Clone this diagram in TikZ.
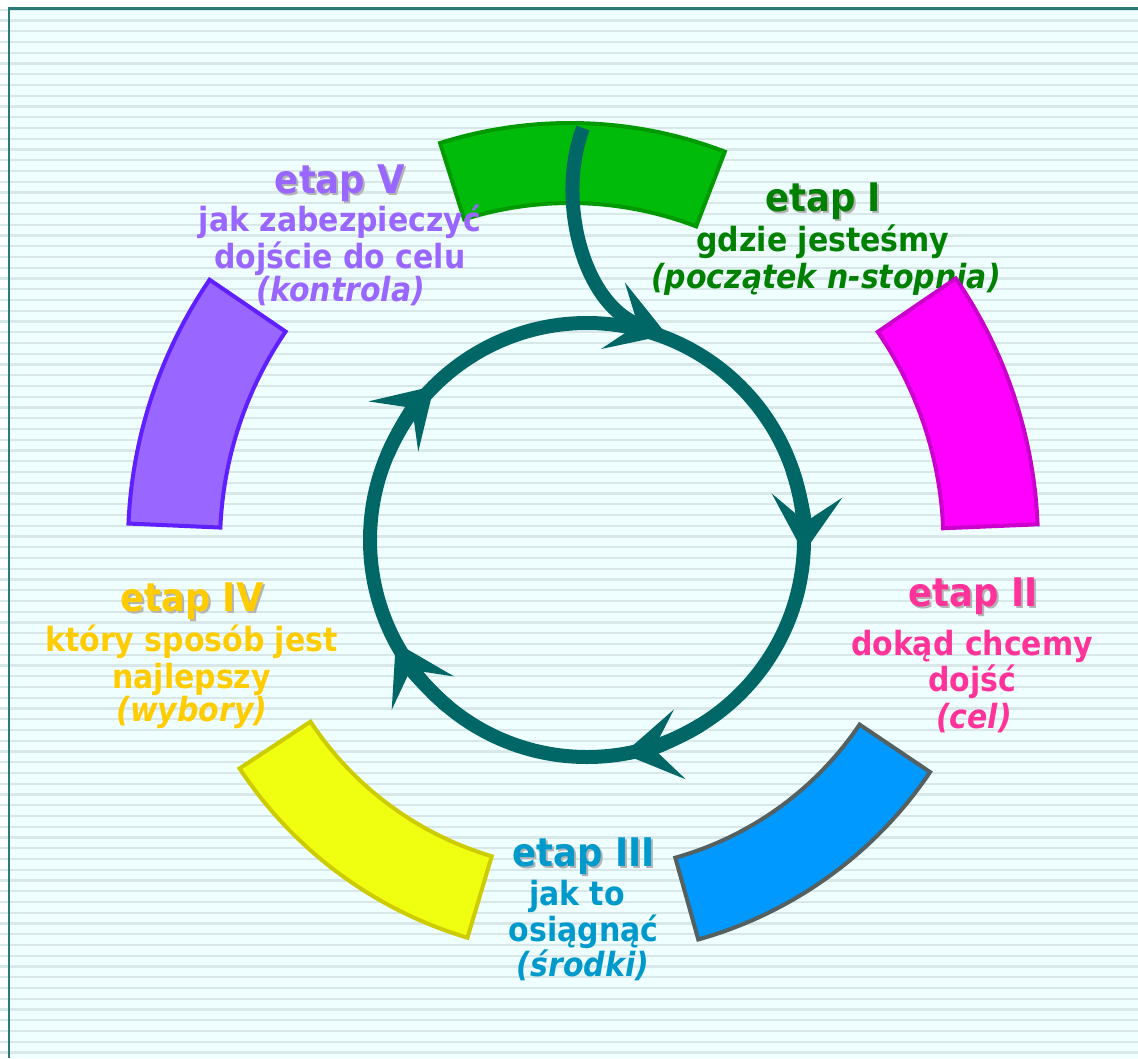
\documentclass[tikz,border=0pt]{standalone}
\usepackage{fontspec}
\IfFontExistsTF{DejaVu Sans Condensed}{%
  \setmainfont{DejaVu Sans Condensed}%
  \newcommand\myheadsz{39.4}\newcommand\mybodysz{33.3}}{%
  \setmainfont{DejaVu Sans}%
  \newcommand\myheadsz{35.5}\newcommand\mybodysz{30}}
\usetikzlibrary{arrows.meta,calc}
\definecolor{bgc}{HTML}{EFFFFF}
\definecolor{stripec}{HTML}{D8E7E7}
\definecolor{framec}{HTML}{2A7A75}
\definecolor{ringc}{HTML}{006666}
\definecolor{shadowc}{HTML}{B4B4B4}
\definecolor{vtext}{HTML}{9966FF}
\definecolor{vfill}{HTML}{9966FF}
\definecolor{vline}{HTML}{5F1FFF}
\definecolor{itext}{HTML}{008000}
\definecolor{ifill}{HTML}{00BB0A}
\definecolor{iline}{HTML}{009A00}
\definecolor{iitext}{HTML}{FF3399}
\definecolor{iifill}{HTML}{FF00FF}
\definecolor{iiline}{HTML}{CC00CC}
\definecolor{iiitext}{HTML}{0099CC}
\definecolor{iiifill}{HTML}{0099FF}
\definecolor{iiiline}{HTML}{556060}
\definecolor{ivtext}{HTML}{FFCC00}
\definecolor{ivfill}{HTML}{F0FF10}
\definecolor{ivline}{HTML}{CCCC00}
\newcommand\headf{\fontsize{\myheadsz}{40}\selectfont\bfseries}
\newcommand\bodyf{\fontsize{\mybodysz}{36}\selectfont\bfseries}
\newcommand\bodyif{\fontsize{\mybodysz}{36}\selectfont\bfseries\itshape}
\tikzset{
  head/.style={anchor=base, inner sep=0pt, font=\headf},
  headshadow/.style={anchor=base, inner sep=0pt, font=\headf, text=shadowc},
  body/.style={anchor=base, inner sep=0pt, font=\bodyf},
  bodyit/.style={anchor=base, inner sep=0pt, font=\bodyif},
  segment/.style={line width=4pt, line join=miter},
  ringline/.style={draw=ringc, line width=14pt},
  ringtip/.style={-{Stealth[length=57pt, width=70pt, inset=26pt]}},
  stripeline/.style={draw=stripec, line width=2.2pt},
}
\begin{document}
\begin{tikzpicture}[x=1pt,y=-1pt]
\useasboundingbox (0,0) rectangle (1138,1058);
% background
\fill[white] (0,0) rectangle (1138,1058);
\fill[bgc] (9,8.5) rectangle (1138,1058);
\foreach \k in {0,...,98} {
  \draw[stripeline] (0,{9.75+10.75*\k-10.75}) -- (1138,{9.75+10.75*\k-10.75});
}
\draw[draw=framec, line width=2.6pt] (9,1058) -- (9,8.5) -- (1138,8.5);

% etap I
\node[headshadow] (t1s) at (825,213.7) {etap I};
\node[head, text=itext] (t1) at (823,211.7) {etap I};
\node[body, text=itext] (t1b) at (823,251.7) {gdzie jesteśmy};
\node[bodyit, text=itext] (t1c) at (826,288.3) {(początek n-stopnia)};
% etap II
\node[headshadow] (t2s) at (975,608.7) {etap II};
\node[head, text=iitext] (t2) at (973,606.7) {etap II};
\node[body, text=iitext] (t2b) at (972,655) {dokąd chcemy};
\node[body, text=iitext] (t2c) at (972,691.7) {dojść};
\node[bodyit, text=iitext] (t2d) at (974,728) {(cel)};
% etap III
\node[headshadow] (t3s) at (586,868.7) {etap III};
\node[head, text=iiitext] (t3) at (584,866.7) {etap III};
\node[body, text=iiitext] (t3b) at (577,905) {jak to};
\node[body, text=iiitext] (t3c) at (583.5,941.7) {osiągnąć};
\node[bodyit, text=iiitext] (t3d) at (583,976.7) {(środki)};
% etap IV
\node[headshadow] (t4s) at (194,613.7) {etap IV};
\node[head, text=ivtext] (t4) at (192,611.7) {etap IV};
\node[body, text=ivtext] (t4b) at (191.5,651.7) {który sposób jest};
\node[body, text=ivtext] (t4c) at (191.5,688.3) {najlepszy};
\node[bodyit, text=ivtext] (t4d) at (192,721.7) {(wybory)};

% segments
\coordinate (sc) at (586,540);
\coordinate (sg) at (570,555);
\coordinate (sm) at (568,544);
\coordinate (sp) at (597,544);
% green (etap I)
\filldraw[segment, fill=ifill, draw=iline]
  ($(sg)+(252.5:432)$) arc[start angle=252.5, end angle=291, radius=432]
  -- ($(sg)+(291:352)$) arc[start angle=291, end angle=252.5, radius=352] -- cycle;
% blue (etap III)
\filldraw[segment, fill=iiifill, draw=iiiline]
  ($(sc)+(34:415)$) arc[start angle=34, end angle=74.3, radius=415]
  -- ($(sc)+(74.3:330)$) arc[start angle=74.3, end angle=34, radius=330] -- cycle;
% yellow (etap IV)
\filldraw[segment, fill=ivfill, draw=ivline]
  ($(sc)+(106.6:415)$) arc[start angle=106.6, end angle=146.6, radius=415]
  -- ($(sc)+(146.6:330)$) arc[start angle=146.6, end angle=106.6, radius=330] -- cycle;
% magenta (etap II)
\filldraw[segment, fill=iifill, draw=iiline]
  ($(sm)+(-34.4:470)$) arc[start angle=-34.4, end angle=-2.4, radius=470]
  -- ($(sm)+(-2.4:375.5)$) arc[start angle=-2.4, end angle=-34.4, radius=375.5] -- cycle;
% purple (etap V)
\filldraw[segment, fill=vfill, draw=vline]
  ($(sp)+(182.5:469)$) arc[start angle=182.5, end angle=214.3, radius=469]
  -- ($(sp)+(214.3:377)$) arc[start angle=214.3, end angle=182.5, radius=377] -- cycle;

% texts: etap V
\node[headshadow] (t5s) at (342,195.3) {etap V};
\node[head, text=vtext] (t5) at (340,193.3) {etap V};
\node[body, text=vtext] (t5b) at (340,231.7) {jak zabezpieczyć};
\node[body, text=vtext] (t5c) at (340,268.3) {dojście do celu};
\node[bodyit, text=vtext] (t5d) at (341,301.7) {(kontrola)};

% ring
\coordinate (rc) at (587,540);
\draw[ringline] (rc) circle[radius=217];
\foreach \a in {3.4, 80.4, 151.8, 225.2} {
  \draw[ringline, ringtip] ($(rc)+(\a-22:217)$) arc[start angle=\a-22, end angle=\a, radius=217];
}
% entry arrow
\coordinate (cs) at (583,128);
\coordinate (ce) at (667,335);
\draw[ringline, ringtip] (cs) .. controls (556,200) and (583,305) .. (ce);
\end{tikzpicture}
\end{document}
